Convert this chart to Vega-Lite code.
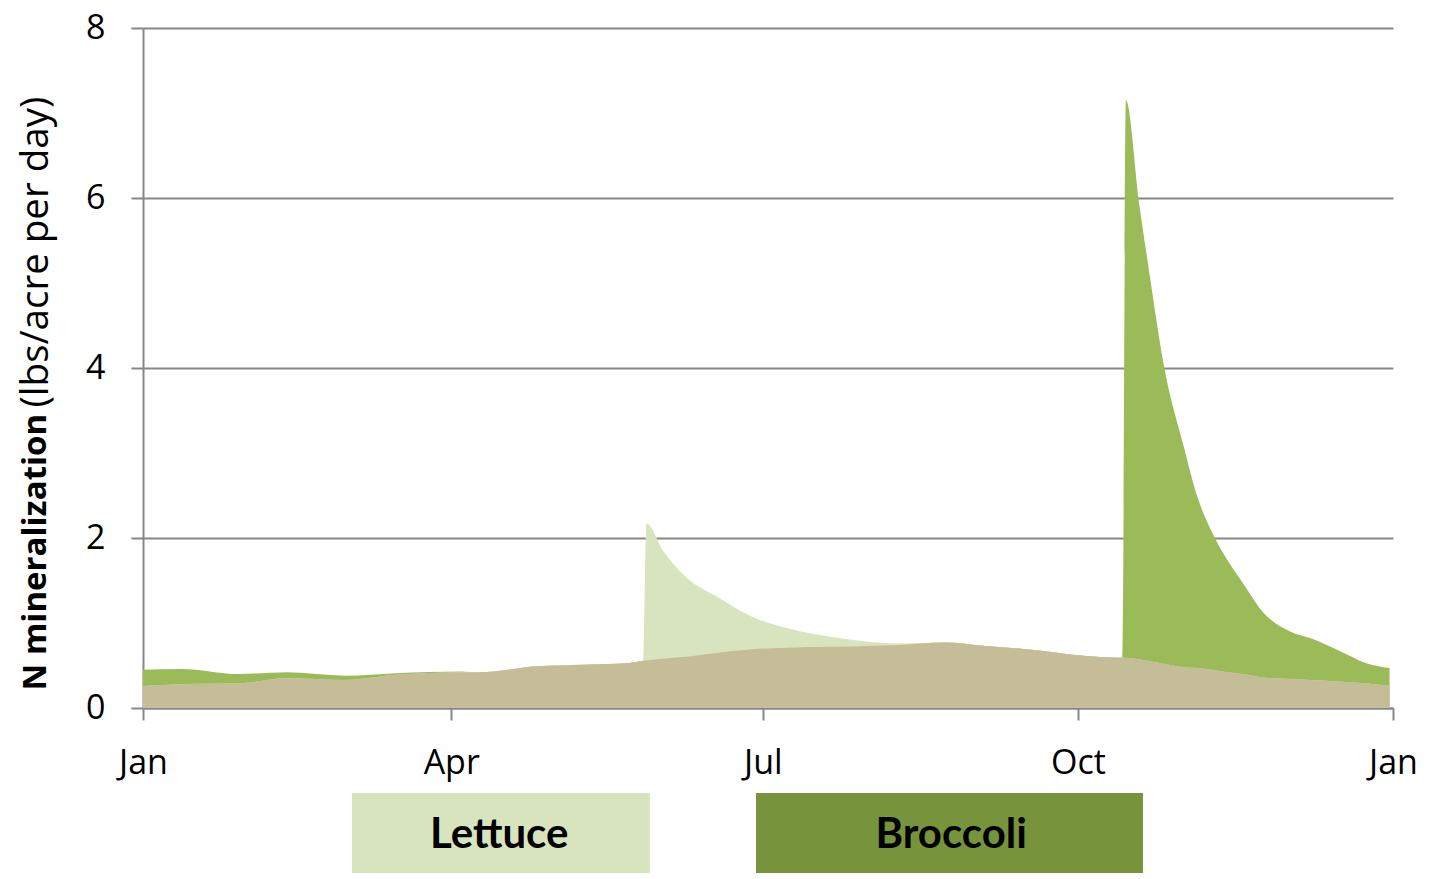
{
  "$schema": "https://vega.github.io/schema/vega-lite/v6.json",
  "padding": {"left": 16, "top": 11, "right": 20, "bottom": 5},
  "background": "white",
  "spacing": 13,
  "config": {
    "view": {"stroke": null},
    "axis": {
      "labelFont": "Open Sans", "labelFontSize": 34, "labelColor": "#000000",
      "domainColor": "#878787", "domainWidth": 2,
      "tickColor": "#878787", "tickWidth": 2, "tickSize": 12,
      "gridColor": "#878787", "gridWidth": 2,
      "titleFont": "Open Sans", "titleColor": "#000000"
    }
  },
  "vconcat": [
    {
      "width": 1250,
      "height": 680,
      "data": {"values": [
        {"date": "2023-01-01", "base": 0.26, "lettuce": 0.26, "broccoli": 0.45},
        {"date": "2023-01-12", "base": 0.28, "lettuce": 0.28, "broccoli": 0.46},
        {"date": "2023-01-29", "base": 0.29, "lettuce": 0.29, "broccoli": 0.40},
        {"date": "2023-02-12", "base": 0.35, "lettuce": 0.35, "broccoli": 0.42},
        {"date": "2023-03-01", "base": 0.33, "lettuce": 0.33, "broccoli": 0.38},
        {"date": "2023-03-16", "base": 0.39, "lettuce": 0.39, "broccoli": 0.41},
        {"date": "2023-04-04", "base": 0.42, "lettuce": 0.42, "broccoli": 0.43},
        {"date": "2023-04-09", "base": 0.42, "lettuce": 0.42, "broccoli": 0.42},
        {"date": "2023-04-26", "base": 0.49, "lettuce": 0.49, "broccoli": 0.49},
        {"date": "2023-05-10", "base": 0.51, "lettuce": 0.51, "broccoli": 0.51},
        {"date": "2023-05-23", "base": 0.53, "lettuce": 0.53, "broccoli": 0.53},
        {"date": "2023-05-27", "base": 0.555, "lettuce": 0.555, "broccoli": 0.555},
        {"date": "2023-05-28", "base": 0.56, "lettuce": 2.17, "broccoli": 0.56},
        {"date": "2023-06-02", "base": 0.58, "lettuce": 1.84, "broccoli": 0.58},
        {"date": "2023-06-08", "base": 0.60, "lettuce": 1.56, "broccoli": 0.60},
        {"date": "2023-06-18", "base": 0.65, "lettuce": 1.30, "broccoli": 0.65},
        {"date": "2023-06-28", "base": 0.69, "lettuce": 1.07, "broccoli": 0.69},
        {"date": "2023-07-08", "base": 0.71, "lettuce": 0.94, "broccoli": 0.71},
        {"date": "2023-07-22", "base": 0.72, "lettuce": 0.83, "broccoli": 0.72},
        {"date": "2023-08-10", "base": 0.74, "lettuce": 0.76, "broccoli": 0.74},
        {"date": "2023-08-23", "base": 0.77, "lettuce": 0.77, "broccoli": 0.77},
        {"date": "2023-09-04", "base": 0.73, "lettuce": 0.73, "broccoli": 0.73},
        {"date": "2023-09-19", "base": 0.68, "lettuce": 0.68, "broccoli": 0.68},
        {"date": "2023-10-01", "base": 0.62, "lettuce": 0.62, "broccoli": 0.62},
        {"date": "2023-10-14", "base": 0.59, "lettuce": 0.59, "broccoli": 0.59},
        {"date": "2023-10-15", "base": 0.59, "lettuce": 0.59, "broccoli": 7.15},
        {"date": "2023-10-19", "base": 0.57, "lettuce": 0.57, "broccoli": 5.9},
        {"date": "2023-10-22", "base": 0.55, "lettuce": 0.55, "broccoli": 5.08},
        {"date": "2023-10-26", "base": 0.52, "lettuce": 0.52, "broccoli": 4.05},
        {"date": "2023-11-01", "base": 0.48, "lettuce": 0.48, "broccoli": 3.06},
        {"date": "2023-11-05", "base": 0.47, "lettuce": 0.47, "broccoli": 2.47},
        {"date": "2023-11-09", "base": 0.45, "lettuce": 0.45, "broccoli": 2.08},
        {"date": "2023-11-12", "base": 0.43, "lettuce": 0.43, "broccoli": 1.85},
        {"date": "2023-11-18", "base": 0.40, "lettuce": 0.40, "broccoli": 1.48},
        {"date": "2023-11-24", "base": 0.36, "lettuce": 0.36, "broccoli": 1.13},
        {"date": "2023-12-02", "base": 0.34, "lettuce": 0.34, "broccoli": 0.90},
        {"date": "2023-12-08", "base": 0.33, "lettuce": 0.33, "broccoli": 0.82},
        {"date": "2023-12-17", "base": 0.31, "lettuce": 0.31, "broccoli": 0.66},
        {"date": "2023-12-24", "base": 0.29, "lettuce": 0.29, "broccoli": 0.53},
        {"date": "2023-12-31", "base": 0.26, "lettuce": 0.26, "broccoli": 0.47}
      ]},
      "encoding": {
        "x": {
          "field": "date", "type": "temporal",
          "scale": {"type": "utc", "domain": ["2023-01-01", "2024-01-01"]},
          "axis": {
            "title": null, "grid": false, "format": "%b",
            "values": ["2023-01-01", "2023-04-01", "2023-07-01", "2023-10-01", "2024-01-01"],
            "labelPadding": 26, "labelOverlap": false, "labelFlush": false
          }
        }
      },
      "layer": [
        {
          "mark": {"type": "area", "color": "#9BBB59", "interpolate": "monotone"},
          "encoding": {
            "y": {
              "field": "broccoli", "type": "quantitative",
              "scale": {"domain": [0, 8]},
              "axis": {
                "values": [0, 2, 4, 6, 8], "grid": true, "labelPadding": 26,
                "title": "N mineralization", "titleFontSize": 33, "titleFontWeight": "bold",
                "titleAngle": -90, "titleAlign": "left", "titleBaseline": "middle",
                "titleX": -108, "titleY": 662
              }
            }
          }
        },
        {
          "mark": {"type": "area", "color": "#D7E4BD", "interpolate": "monotone"},
          "encoding": {
            "y": {
              "field": "lettuce", "type": "quantitative",
              "scale": {"domain": [0, 8]},
              "axis": {
                "orient": "left", "labels": false, "ticks": false, "domain": false, "grid": false,
                "title": "(lbs/acre per day)", "titleFontSize": 38.5, "titleFontWeight": "normal",
                "titleAngle": -90, "titleAlign": "left", "titleBaseline": "middle",
                "titleX": -108, "titleY": 379
              }
            }
          }
        },
        {
          "mark": {"type": "area", "color": "#C4BD97", "interpolate": "monotone"},
          "encoding": {
            "y": {"field": "base", "type": "quantitative", "scale": {"domain": [0, 8]}, "axis": null}
          }
        }
      ],
      "resolve": {"scale": {"y": "shared"}, "axis": {"y": "independent"}}
    },
    {
      "width": 1250,
      "height": 80,
      "data": {"values": [
        {"crop": "Lettuce", "start": "2023-03-03", "end": "2023-05-29", "mid": "2023-04-15"},
        {"crop": "Broccoli", "start": "2023-06-29", "end": "2023-10-20", "mid": "2023-08-25"}
      ]},
      "layer": [
        {
          "mark": {"type": "rect"},
          "encoding": {
            "x": {"field": "start", "type": "temporal", "scale": {"type": "utc", "domain": ["2023-01-01", "2024-01-01"]}, "axis": null},
            "x2": {"field": "end"},
            "color": {
              "field": "crop", "type": "nominal", "legend": null,
              "scale": {"domain": ["Lettuce", "Broccoli"], "range": ["#D7E4BD", "#77933C"]}
            }
          }
        },
        {
          "mark": {"type": "text", "font": "Lato", "fontWeight": "bold", "fontSize": 42, "color": "#000000", "baseline": "middle", "dy": 2},
          "encoding": {
            "x": {"field": "mid", "type": "temporal", "scale": {"type": "utc", "domain": ["2023-01-01", "2024-01-01"]}, "axis": null},
            "text": {"field": "crop"}
          }
        }
      ]
    }
  ]
}
